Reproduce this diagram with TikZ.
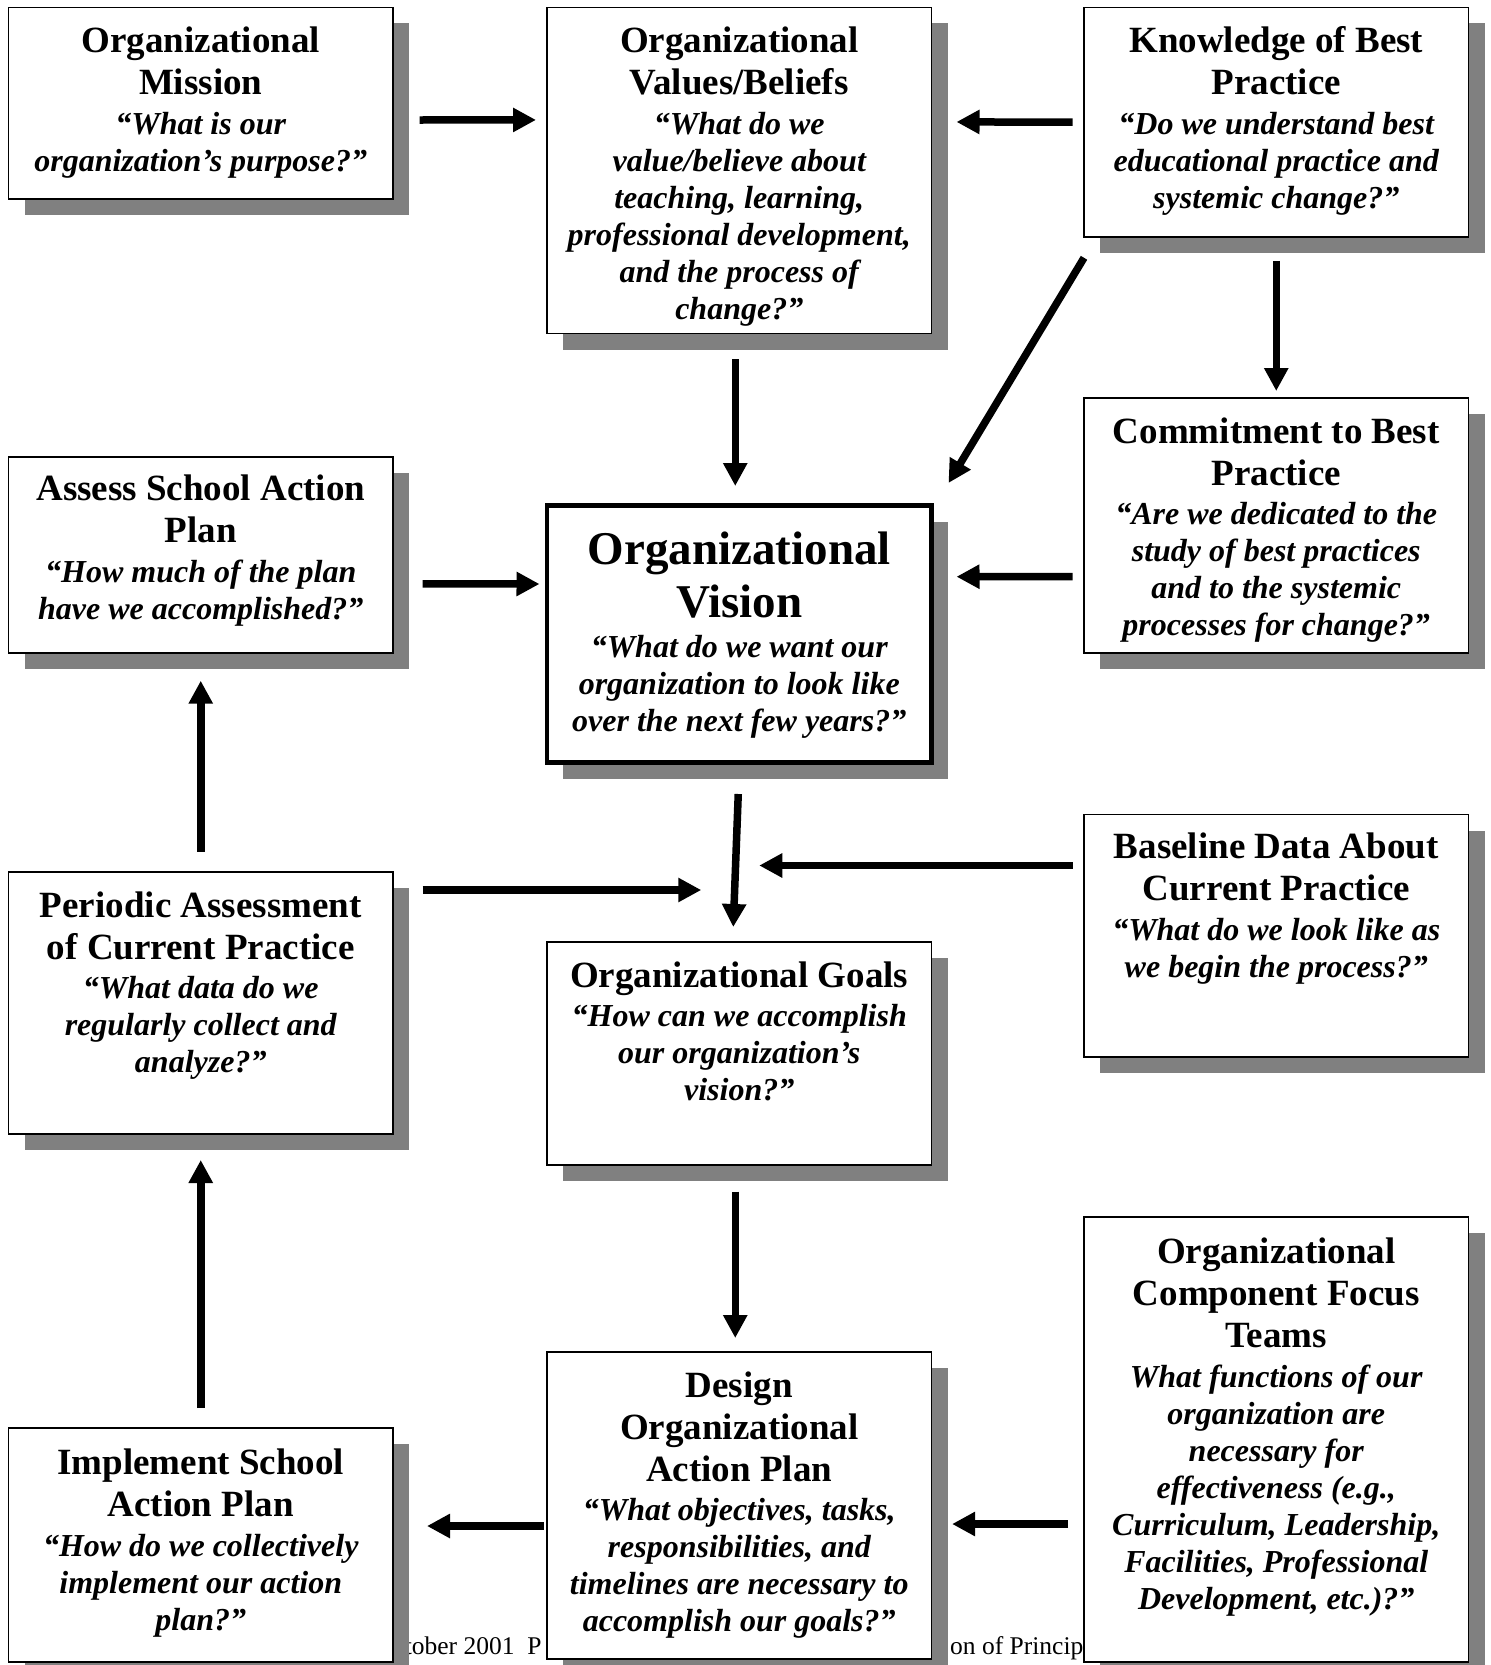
\documentclass[tikz,border=0pt]{standalone}
\usepackage{fontspec}
\setmainfont{Liberation Serif}
\usetikzlibrary{arrows.meta,calc,shadows}
\definecolor{shadowgray}{HTML}{808080}
\newcommand\Tt{\bfseries\fontsize{37}{42}\selectfont\spaceskip=0.25em\relax\xspaceskip=0.25em\relax}
\newcommand\Qt{\bfseries\itshape\fontsize{32}{37}\selectfont\spaceskip=0.25em\relax\xspaceskip=0.25em\relax}
\newcommand\Vt{\bfseries\fontsize{47}{53}\selectfont\spaceskip=0.25em\relax\xspaceskip=0.25em\relax}
\newcommand\Gap{\par\vspace{2.5pt}}
\tikzset{
  box/.style={draw, fill=white, line width=1.8pt, minimum width=384.5pt, anchor=north west, inner sep=0pt, outer sep=0pt,
    drop shadow={shadow xshift=16pt, shadow yshift=-16pt, fill=shadowgray, opacity=1}},
  txt/.style={text width=378pt, align=center, inner sep=0pt, anchor=north},
  arr/.style={line width=7.5pt, -{Triangle[length=23pt,width=23pt]}},
  foot/.style={font=\fontsize{25.5}{30}\selectfont, inner sep=0pt, anchor=base west},
}
\begin{document}
\begin{tikzpicture}[x=1pt,y=-1pt]
\useasboundingbox (0,0) rectangle (1491,1665);
\fill[white] (0,0) rectangle (1491,1665);

% footer text (partly hidden by boxes)
\node[foot] (footA) at (404.6,1654) {tober 2001\ \ P};
\node[foot] (footB) at (950,1654) {on of Princip};

% boxes
\node[box, minimum height=191.2pt] (mission) at (8.5,7.4) {};
\node[box, minimum height=326.1pt] (values) at (547,7.4) {};
\node[box, minimum height=229.4pt] (know) at (1084,7.4) {};
\node[box, minimum height=255pt] (commit) at (1084,398) {};
\node[box, minimum height=196.3pt] (assess) at (8.5,456.7) {};
\node[box, minimum height=257pt, line width=4.5pt] (vision) at (547,505.5) {};
\node[box, minimum height=262pt] (periodic) at (8.5,872) {};
\node[box, minimum height=242.2pt] (baseline) at (1084,814.5) {};
\node[box, minimum height=223pt] (goals) at (547,942) {};
\node[box, minimum height=445pt] (focus) at (1084,1217) {};
\node[box, minimum height=307pt] (design) at (547,1352) {};
\node[box, minimum height=234pt] (implement) at (8.5,1428) {};

% texts
\node[txt] (missionT) at ($(mission.north)+(0,17.1)$)
  {\Tt\rule{0pt}{28pt}Organizational\\Mission\Gap\Qt “What is our\\organization’s purpose?”\par};
\node[txt] (valuesT) at ($(values.north)+(0,17.1)$)
  {\Tt\rule{0pt}{28pt}Organizational\\Values/Beliefs\Gap\Qt “What do we\\value/believe about\\teaching, learning,\\professional development,\\and the process of\\change?”\par};
\node[txt] (knowT) at ($(know.north)+(0,17.1)$)
  {\Tt\rule{0pt}{28pt}Knowledge of Best\\Practice\Gap\Qt “Do we understand best\\educational practice and\\systemic change?”\par};
\node[txt] (commitT) at ($(commit.north)+(0,17)$)
  {\Tt\rule{0pt}{28pt}Commitment to Best\\Practice\Gap\Qt “Are we dedicated to the\\study of best practices\\and to the systemic\\processes for change?”\par};
\node[txt] (assessT) at ($(assess.north)+(0,16)$)
  {\Tt\rule{0pt}{28pt}Assess School Action\\Plan\Gap\Qt “How much of the plan\\have we accomplished?”\par};
\node[txt] (visionT) at ($(vision.north)+(0,23)$)
  {\Vt\rule{0pt}{36pt}Organizational\\Vision\Gap\Qt “What do we want our\\organization to look like\\over the next few years?”\par};
\node[txt] (periodicT) at ($(periodic.north)+(0,17)$)
  {\Tt\rule{0pt}{28pt}Periodic Assessment\\of Current Practice\Gap\Qt “What data do we\\regularly collect and\\analyze?”\par};
\node[txt] (baselineT) at ($(baseline.north)+(0,16.1)$)
  {\Tt\rule{0pt}{28pt}Baseline Data About\\Current Practice\Gap\Qt “What do we look like as\\we begin the process?”\par};
\node[txt] (goalsT) at ($(goals.north)+(0,17)$)
  {\Tt\rule{0pt}{28pt}Organizational Goals\Gap\Qt “How can we accomplish\\our organization’s\\vision?”\par};
\node[txt] (focusT) at ($(focus.north)+(0,18.3)$)
  {\Tt\rule{0pt}{28pt}Organizational\\Component Focus\\Teams\Gap\Qt What functions of our\\organization are\\necessary for\\effectiveness (e.g.,\\Curriculum, Leadership,\\Facilities, Professional\\Development, etc.)?”\par};
\node[txt] (designT) at ($(design.north)+(0,17)$)
  {\Tt\rule{0pt}{28pt}Design\\Organizational\\Action Plan\Gap\Qt “What objectives, tasks,\\responsibilities, and\\timelines are necessary to\\accomplish our goals?”\par};
\node[txt] (implementT) at ($(implement.north)+(0,18.6)$)
  {\Tt\rule{0pt}{28pt}Implement School\\Action Plan\Gap\Qt “How do we collectively\\implement our action\\plan?”\par};

% junction points
\coordinate (j1) at ($(vision.south)+(-38,127.5)$);
\coordinate (j2) at ($(vision.south)+(20,103)$);

% arrows
\draw[arr] ($(mission.east)+(26.5,17)$) -- ($(values.west)+(-11,-50.5)$);
\draw[arr] ($(know.west)+(-11.5,0)$) -- ($(values.east)+(25,-48.5)$);
\draw[arr] ($(values.south)+(-4,25.5)$) -- ($(vision.north)+(-4,-19.5)$);
\draw[arr] ($(know.south west)+(0,21)$) -- ($(vision.north east)+(17,-22.5)$);
\draw[arr] ($(know.south)+(0,24)$) -- ($(commit.north)+(0,-7)$);
\draw[arr] ($(commit.west)+(-11.5,51)$) -- ($(vision.east)+(25,-57.3)$);
\draw[arr] ($(assess.east)+(29.7,29)$) -- ($(vision.west)+(-7.5,-50)$);
\draw[arr] ($(periodic.north)+(0,-20.3)$) -- ($(assess.south)+(0,27.7)$);
\draw[arr] ($(vision.south)+(-1,31.5)$) -- ($(goals.north)+(-6,-15)$);
\draw[arr] ($(periodic.north east)+(29.7,18)$) -- (j1);
\draw[arr] ($(baseline.north west)+(-11.5,51)$) -- (j2);
\draw[arr] ($(goals.south)+(-4,26.6)$) -- ($(design.north)+(-4,-14)$);
\draw[arr] ($(focus.west)+(-16,84.5)$) -- ($(design.east)+(20.6,18.5)$);
\draw[arr] ($(design.west)+(-3.3,20.5)$) -- ($(implement.east)+(34,-19)$);
\draw[arr] ($(implement.north)+(0,-20)$) -- ($(periodic.south)+(0,26)$);
\end{tikzpicture}
\end{document}
